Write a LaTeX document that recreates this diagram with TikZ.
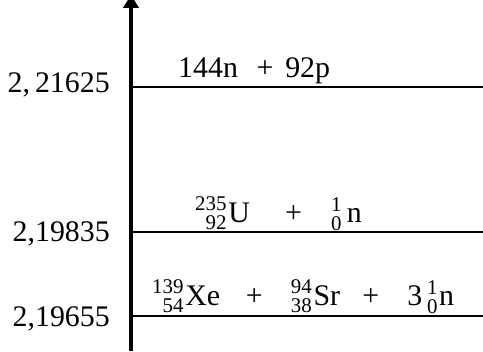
\documentclass[tikz,border=0pt]{standalone}
\usepackage{fontspec}
\usepackage{mathtools}
\setmainfont{Liberation Serif}
\usetikzlibrary{arrows.meta, positioning}

\newcommand{\nucl}[3]{$\prescript{\text{#1}}{\text{#2}}{\kern1pt\text{#3}}$}

\begin{document}
\begin{tikzpicture}[x=0.03cm, y=-0.03cm, font=\fontsize{25.5}{30}\selectfont]
    \tikzstyle{level} = [line width=2.3pt]
    \tikzstyle{axis} = [line width=2.6pt, -{Triangle[width=13pt, length=11pt]}]
    \tikzstyle{energy} = [anchor=base east, inner sep=0pt]
    \tikzstyle{state} = [anchor=base west, inner sep=0pt]
    \useasboundingbox (0,0) rectangle (483,351);
    % axis
    \coordinate (ax0) at (131,351);
    \coordinate (ax1) at (131,-5);
    \draw[axis] (ax0) -- (ax1);
    % levels
    \coordinate (l1a) at (131,87);  \coordinate (l1b) at (483,87);
    \coordinate (l2a) at (131,232); \coordinate (l2b) at (483,232);
    \coordinate (l3a) at (131,316); \coordinate (l3b) at (483,316);
    \draw[level] (l1a) -- (l1b);
    \draw[level] (l2a) -- (l2b);
    \draw[level] (l3a) -- (l3b);
    % energies
    \node[energy] (e1) at (110,92) {2,\,21625};
    \node[energy] (e2) at (110,241) {2,19835};
    \node[energy] (e3) at (110,326) {2,19655};
    % states
    \node[state] (s1) at (178,77) {144n\hspace{16pt}+\hspace{10pt}92p};
    \node[state] (s2) at (195,222) {\nucl{235}{92}{U}\hspace{30pt}+\hspace{25pt}\nucl{1}{0}{\kern3pt n}};
    \node[state] (s3) at (152,305) {\nucl{139}{54}{Xe}\hspace{22pt}+\hspace{24pt}\nucl{94}{38}{Sr}\hspace{19pt}+\hspace{24pt}3\kern4pt\nucl{1}{0}{n}};
\end{tikzpicture}
\end{document}
